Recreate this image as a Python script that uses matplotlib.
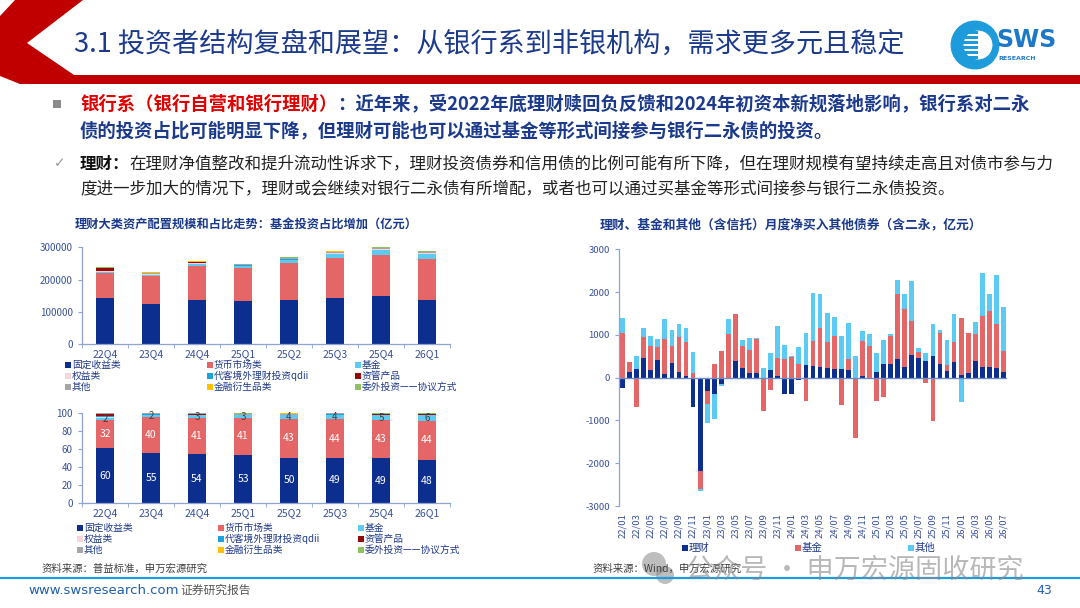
import numpy as np
import matplotlib
matplotlib.use('Agg')
import matplotlib.pyplot as plt
from matplotlib.patches import Polygon, Rectangle, Circle

plt.rcParams['font.family'] = ['Noto Sans CJK SC', 'DejaVu Sans']
plt.rcParams['axes.unicode_minus'] = False

# ---------------- data ----------------
quarters = ['22Q4', '23Q4', '24Q4', '25Q1', '25Q2', '25Q3', '25Q4', '26Q1']
asset_names = ['固定收益类', '货币市场类', '基金', '权益类', '代客境外理财投资qdii',
               '资管产品', '其他', '金融衍生品类', '委外投资——协议方式']
asset_colors = ['#0C2F8F', '#E46666', '#5CCBF3', '#F8D3D8', '#1AA3DD',
                '#960A0A', '#A6A6A6', '#FFC000', '#8DC35F']

# scale, 亿元
fixed_amt = [143700, 124000, 138000, 133000, 135000, 143500, 148500, 137500]
money_amt = [75500, 87000, 104000, 102500, 115000, 124000, 127500, 125000]
fund_amt = [5000, 4500, 7500, 7000, 10500, 12500, 17000, 18000]
equity_amt = [3000, 1500, 1500, 1000, 1500, 1500, 1500, 1500]
qdii_amt = [500, 500, 500, 500, 500, 500, 500, 500]
am_amt = [7500, 700, 2000, 500, 500, 500, 500, 500]
other_amt = [1500, 2000, 2000, 2500, 3000, 3500, 2500, 3000]
deriv_amt = [500, 2000, 1500, 500, 1500, 2500, 500, 500]
outs_amt = [500, 300, 500, 2000, 1500, 1500, 2500, 3500]

# share, %
fixed_pct = [60.4, 55.4, 53.6, 53.3, 50.2, 49.4, 49.3, 47.5]
money_pct = [31.8, 39.8, 40.6, 41.0, 42.8, 43.6, 42.6, 43.5]
fund_pct = [2.1, 2.0, 2.9, 2.8, 3.9, 4.3, 5.2, 6.2]
equity_pct = [1.3, 0.7, 0.6, 0.4, 0.5, 0.5, 0.5, 0.5]
qdii_pct = [0.2, 0.2, 0.2, 0.2, 0.2, 0.2, 0.2, 0.2]
am_pct = [3.2, 0.3, 0.5, 0.2, 0.2, 0.2, 0.2, 0.2]
other_pct = [0.6, 0.9, 0.8, 1.0, 1.1, 1.0, 0.9, 0.8]
deriv_pct = [0.2, 0.6, 0.3, 0.2, 0.5, 0.3, 0.2, 0.1]
outs_pct = [0.2, 0.1, 0.5, 0.9, 0.6, 0.5, 0.9, 1.0]

months = [f'{y:02d}/{m:02d}' for y in range(22, 27) for m in range(1, 13)][:55]
licai = [-240, 135, 195, 460, 180, 415, 85, 335, 125, 30, -690, -2190, -310, -375, -140, 0,
         380, 220, 100, 100, 0, 170, 40, -380, -375, -45, 290, 275, 250, 235, 195, 195, 170, 0,
         30, 0, 125, 320, 320, 435, 255, 540, 460, 400, 515, 310, 155, 375, 55, 115, 400, 255,
         240, 220, 125]
jijin = [1040, 240, -690, 485, 555, 295, 810, 400, 820, 795, 110, -410, -295, 310, 615, 1020,
         1100, 530, 545, 795, -790, -290, 420, 435, 485, 310, -545, 575, 900, 595, 770, -630, 265,
         -1400, 820, 735, -545, -450, 665, 1515, 1355, 780, 140, -130, -1020, 735, 150, 450, 1350,
         930, 625, 1180, 1320, 1045, 505]
qita = [360, 0, 310, 205, 250, 195, 470, 390, 320, 335, 485, -40, -450, -585, -55, 360, 0, 140,
        290, 40, 220, 415, 740, 335, 30, 400, 750, 1125, 805, 680, 450, 790, 850, 515, 235, 275,
        445, 570, 40, 335, 335, 950, 85, 170, 740, 80, 585, 670, -570, 0, 280, 1005, 390, 1145, 1020]
flow_names = ['理财', '基金', '其他']
flow_colors = ['#0C2F8F', '#E46666', '#5CCBF3']

# ---------------- layout helpers ----------------
W, H = 1080, 608
fig = plt.figure(figsize=(W / 100, H / 100), dpi=100)
fig.patch.set_facecolor('white')


def fx(x):
    return x / W


def fy(y):
    return 1 - y / H


def add_ax(l, t, r, b):
    return fig.add_axes([l / W, 1 - b / H, (r - l) / W, (b - t) / H])


AXC = '#8EA3D0'
TXC = '#3A5199'
DARK_BLUE = '#1B3A8C'


def style_ax(ax):
    for s in ['top', 'right']:
        ax.spines[s].set_visible(False)
    for s in ['left', 'bottom']:
        ax.spines[s].set_color(AXC)
        ax.spines[s].set_linewidth(0.9)
    ax.tick_params(colors=AXC, labelcolor=TXC, labelsize=7, length=3, width=0.8)
    ax.set_facecolor('none')


def legend_item(x, y, color, label, fs=7, tc='#1F3A8A'):
    fig.add_artist(Rectangle((fx(x), fy(y) - 3 / H), 6 / W, 6 / H,
                             transform=fig.transFigure, color=color, lw=0))
    fig.text(fx(x + 7), fy(y), label, fontsize=fs, va='center', color=tc)


# ---------------- header ----------------
fig.add_artist(Polygon([(fx(15), fy(0)), (fx(83), fy(0)), (fx(27), fy(43)), (fx(74), fy(75)),
                        (fx(1080), fy(75)), (fx(1080), fy(84)), (fx(20), fy(84)),
                        (fx(0), fy(76)), (fx(0), fy(16))],
                       closed=True, transform=fig.transFigure, color='#C00000', lw=0))
fig.text(fx(74), fy(44), '3.1 投资者结构复盘和展望：从银行系到非银机构，需求更多元且稳定',
         fontsize=19.5, color=DARK_BLUE, va='center', ha='left', fontweight='medium')

# logo
lax = add_ax(950, 20, 1000, 70)
lax.set_xlim(-1, 1)
lax.set_ylim(-1, 1)
lax.set_aspect('equal')
lax.axis('off')
lax.add_patch(Circle((0, 0), 0.95, color='#1E9BDB'))
lax.add_patch(Circle((0.12, 0), 0.55, color='white'))
for yy in np.linspace(-0.5, 0.5, 6):
    lax.add_patch(Rectangle((-0.62, yy - 0.05), 0.75, 0.1, color='#1E9BDB', lw=0))
fig.text(fx(996), fy(40), 'SWS', fontsize=17, fontweight='bold', color='#1E78C8',
         va='center', family='DejaVu Sans')
fig.text(fx(998), fy(58), 'RESEARCH', fontsize=4.5, fontweight='bold', color='#1E78C8',
         va='center', family='DejaVu Sans')

# ---------------- bullet text ----------------
renderer = fig.canvas.get_renderer()


def text_run(x, y, parts, fs):
    for s, color, weight in parts:
        t = fig.text(fx(x), fy(y), s, fontsize=fs, color=color, fontweight=weight,
                     va='center', ha='left')
        x = t.get_window_extent(renderer=renderer).x1


fig.add_artist(Rectangle((fx(53), fy(108)), 8 / W, 8 / H, transform=fig.transFigure,
                         color='#8C8C8C', lw=0))
text_run(80, 104, [('银行系（银行自营和银行理财）', '#E00000', 'bold'),
                   ('：近年来，受2022年底理财赎回负反馈和2024年初资本新规落地影响，银行系对二永',
                    DARK_BLUE, 'bold')], 13.2)
text_run(80, 131, [('债的投资占比可能明显下降，但理财可能也可以通过基金等形式间接参与银行二永债的投资。',
                    DARK_BLUE, 'bold')], 13.2)
fig.text(fx(54), fy(163), '✓', fontsize=10, color='#9A9A9A', va='center',
         family=['DejaVu Sans'])
text_run(80, 164, [('理财：', '#111111', 'bold'),
                   ('在理财净值整改和提升流动性诉求下，理财投资债券和信用债的比例可能有所下降，但在理财规模有望持续走高且对债市参与力',
                    '#222222', 'normal')], 11.9)
text_run(80, 190, [('度进一步加大的情况下，理财或会继续对银行二永债有所增配，或者也可以通过买基金等形式间接参与银行二永债投资。',
                    '#222222', 'normal')], 11.9)

# ---------------- chart titles ----------------
fig.text(fx(75), fy(225), '理财大类资产配置规模和占比走势：基金投资占比增加（亿元）',
         fontsize=8.8, fontweight='bold', color=DARK_BLUE, va='center')
fig.text(fx(600), fy(225), '理财、基金和其他（含信托）月度净买入其他债券（含二永，亿元）',
         fontsize=9.2, fontweight='bold', color=DARK_BLUE, va='center')

# ---------------- top-left: scale ----------------
x = np.arange(len(quarters))
amt_series = [fixed_amt, money_amt, fund_amt, equity_amt, qdii_amt, am_amt, other_amt,
              deriv_amt, outs_amt]
ax1 = add_ax(82, 247.3, 450, 344)
base = np.zeros(len(quarters))
for vals, c in zip(amt_series, asset_colors):
    ax1.bar(x, vals, bottom=base, width=0.4, color=c, lw=0, clip_on=False)
    base += np.array(vals)
ax1.set_xlim(-0.5, len(quarters) - 0.5)
ax1.set_ylim(0, 300000)
ax1.set_yticks([0, 100000, 200000, 300000])
ax1.set_yticklabels(['0', '100000', '200000', '300000'])
ax1.set_xticks(x)
ax1.set_xticklabels(quarters)
ax1.set_xticks(np.arange(-0.5, len(quarters)), minor=True)
style_ax(ax1)
ax1.tick_params(axis='x', which='major', length=0, pad=4, labelsize=7.5)
ax1.tick_params(axis='x', which='minor', length=3, color=AXC)

leg_rows1 = [365, 376, 387]
leg_cols1 = [65, 207, 355]
for i, (name, c) in enumerate(zip(asset_names, asset_colors)):
    legend_item(leg_cols1[i % 3], leg_rows1[i // 3], c, name)

# ---------------- bottom-left: share ----------------
pct_series = [fixed_pct, money_pct, fund_pct, equity_pct, qdii_pct, am_pct, other_pct,
              deriv_pct, outs_pct]
ax2 = add_ax(82, 412.7, 450, 502.7)
base = np.zeros(len(quarters))
for k, (vals, c) in enumerate(zip(pct_series, asset_colors)):
    vals = np.array(vals)
    ax2.bar(x, vals, bottom=base, width=0.4, color=c, lw=0)
    if k < 3:
        for xi, b, v in zip(x, base, vals):
            ax2.text(xi, b + v / 2, f'{v:.0f}', ha='center', va='center',
                     fontsize=7.5 if k < 2 else 7,
                     color='white' if k < 2 else '#404040')
    base += vals
ax2.set_xlim(-0.5, len(quarters) - 0.5)
ax2.set_ylim(0, 100)
ax2.set_yticks(range(0, 101, 20))
ax2.set_xticks(x)
ax2.set_xticklabels(quarters)
ax2.set_xticks(np.arange(-0.5, len(quarters)), minor=True)
style_ax(ax2)
ax2.tick_params(axis='x', which='major', length=0, pad=4, labelsize=7.5)
ax2.tick_params(axis='x', which='minor', length=3, color=AXC)

leg_rows2 = [528, 539, 550]
leg_cols2 = [77, 218, 358]
for i, (name, c) in enumerate(zip(asset_names, asset_colors)):
    legend_item(leg_cols2[i % 3], leg_rows2[i // 3], c, name)

fig.text(fx(42), fy(569), '资料来源：普益标准，申万宏源研究', fontsize=7.5, color='#404040',
         va='center')

# ---------------- right: monthly net purchase ----------------
ax3 = add_ax(619, 249.3, 1007, 506)
xm = np.arange(len(months))
pos = np.zeros(len(months))
neg = np.zeros(len(months))
for vals, c in zip([licai, jijin, qita], flow_colors):
    v = np.array(vals, dtype=float)
    bottom = np.where(v >= 0, pos, neg)
    ax3.bar(xm, v, bottom=bottom, width=0.68, color=c, lw=0)
    pos += np.clip(v, 0, None)
    neg += np.clip(v, None, 0)
ax3.axhline(0, color='#6F8AC8', lw=1)
ax3.set_xlim(-0.5, len(months) - 0.5)
ax3.set_ylim(-3000, 3000)
ax3.set_yticks(range(-3000, 3001, 1000))
ax3.set_xticks(xm[::2])
ax3.set_xticklabels(months[::2], rotation=90)
style_ax(ax3)
ax3.spines['bottom'].set_visible(False)
ax3.tick_params(axis='x', length=0, pad=5, labelsize=6.8)
ax3.tick_params(axis='y', labelsize=6.8)

for xl, name, c in zip([682, 795, 908], flow_names, flow_colors):
    legend_item(xl, 548, c, name, fs=7.5)

fig.text(fx(593), fy(569), '资料来源：Wind，申万宏源研究', fontsize=7.5, color='#404040',
         va='center')

# ---------------- footer ----------------
fig.add_artist(plt.Line2D([0, 1], [fy(578), fy(578)], transform=fig.transFigure,
                          color='#1E9BDB', lw=1.6))
fig.text(fx(28), fy(591), 'www.swsresearch.com', fontsize=9.5, color='#1F5FAD', va='center',
         family='DejaVu Sans')
fig.text(fx(180), fy(590), '证券研究报告', fontsize=8.5, color='#555555', va='center')
fig.text(fx(1052), fy(591), '43', fontsize=9, color='#1F5FAD', va='center', ha='right',
         family='DejaVu Sans')

# watermark (semi-transparent, drawn over the source line as in the slide)
wax = add_ax(634, 550, 688, 590)
wax.set_xlim(0, 54)
wax.set_ylim(40, 0)
wax.set_aspect('equal')
wax.axis('off')
wax.add_patch(Circle((20, 14), 12, color='#8A8A8A', alpha=0.55, lw=0))
wax.add_patch(Circle((31, 25), 9, color='#8A8A8A', alpha=0.55, lw=0))
fig.text(fx(686), fy(570), '公众号 · 申万宏源固收研究', fontsize=19.5, color='#8A8A8A',
         alpha=0.6, va='center')

fig.savefig('out.png', dpi=100, facecolor='white')
